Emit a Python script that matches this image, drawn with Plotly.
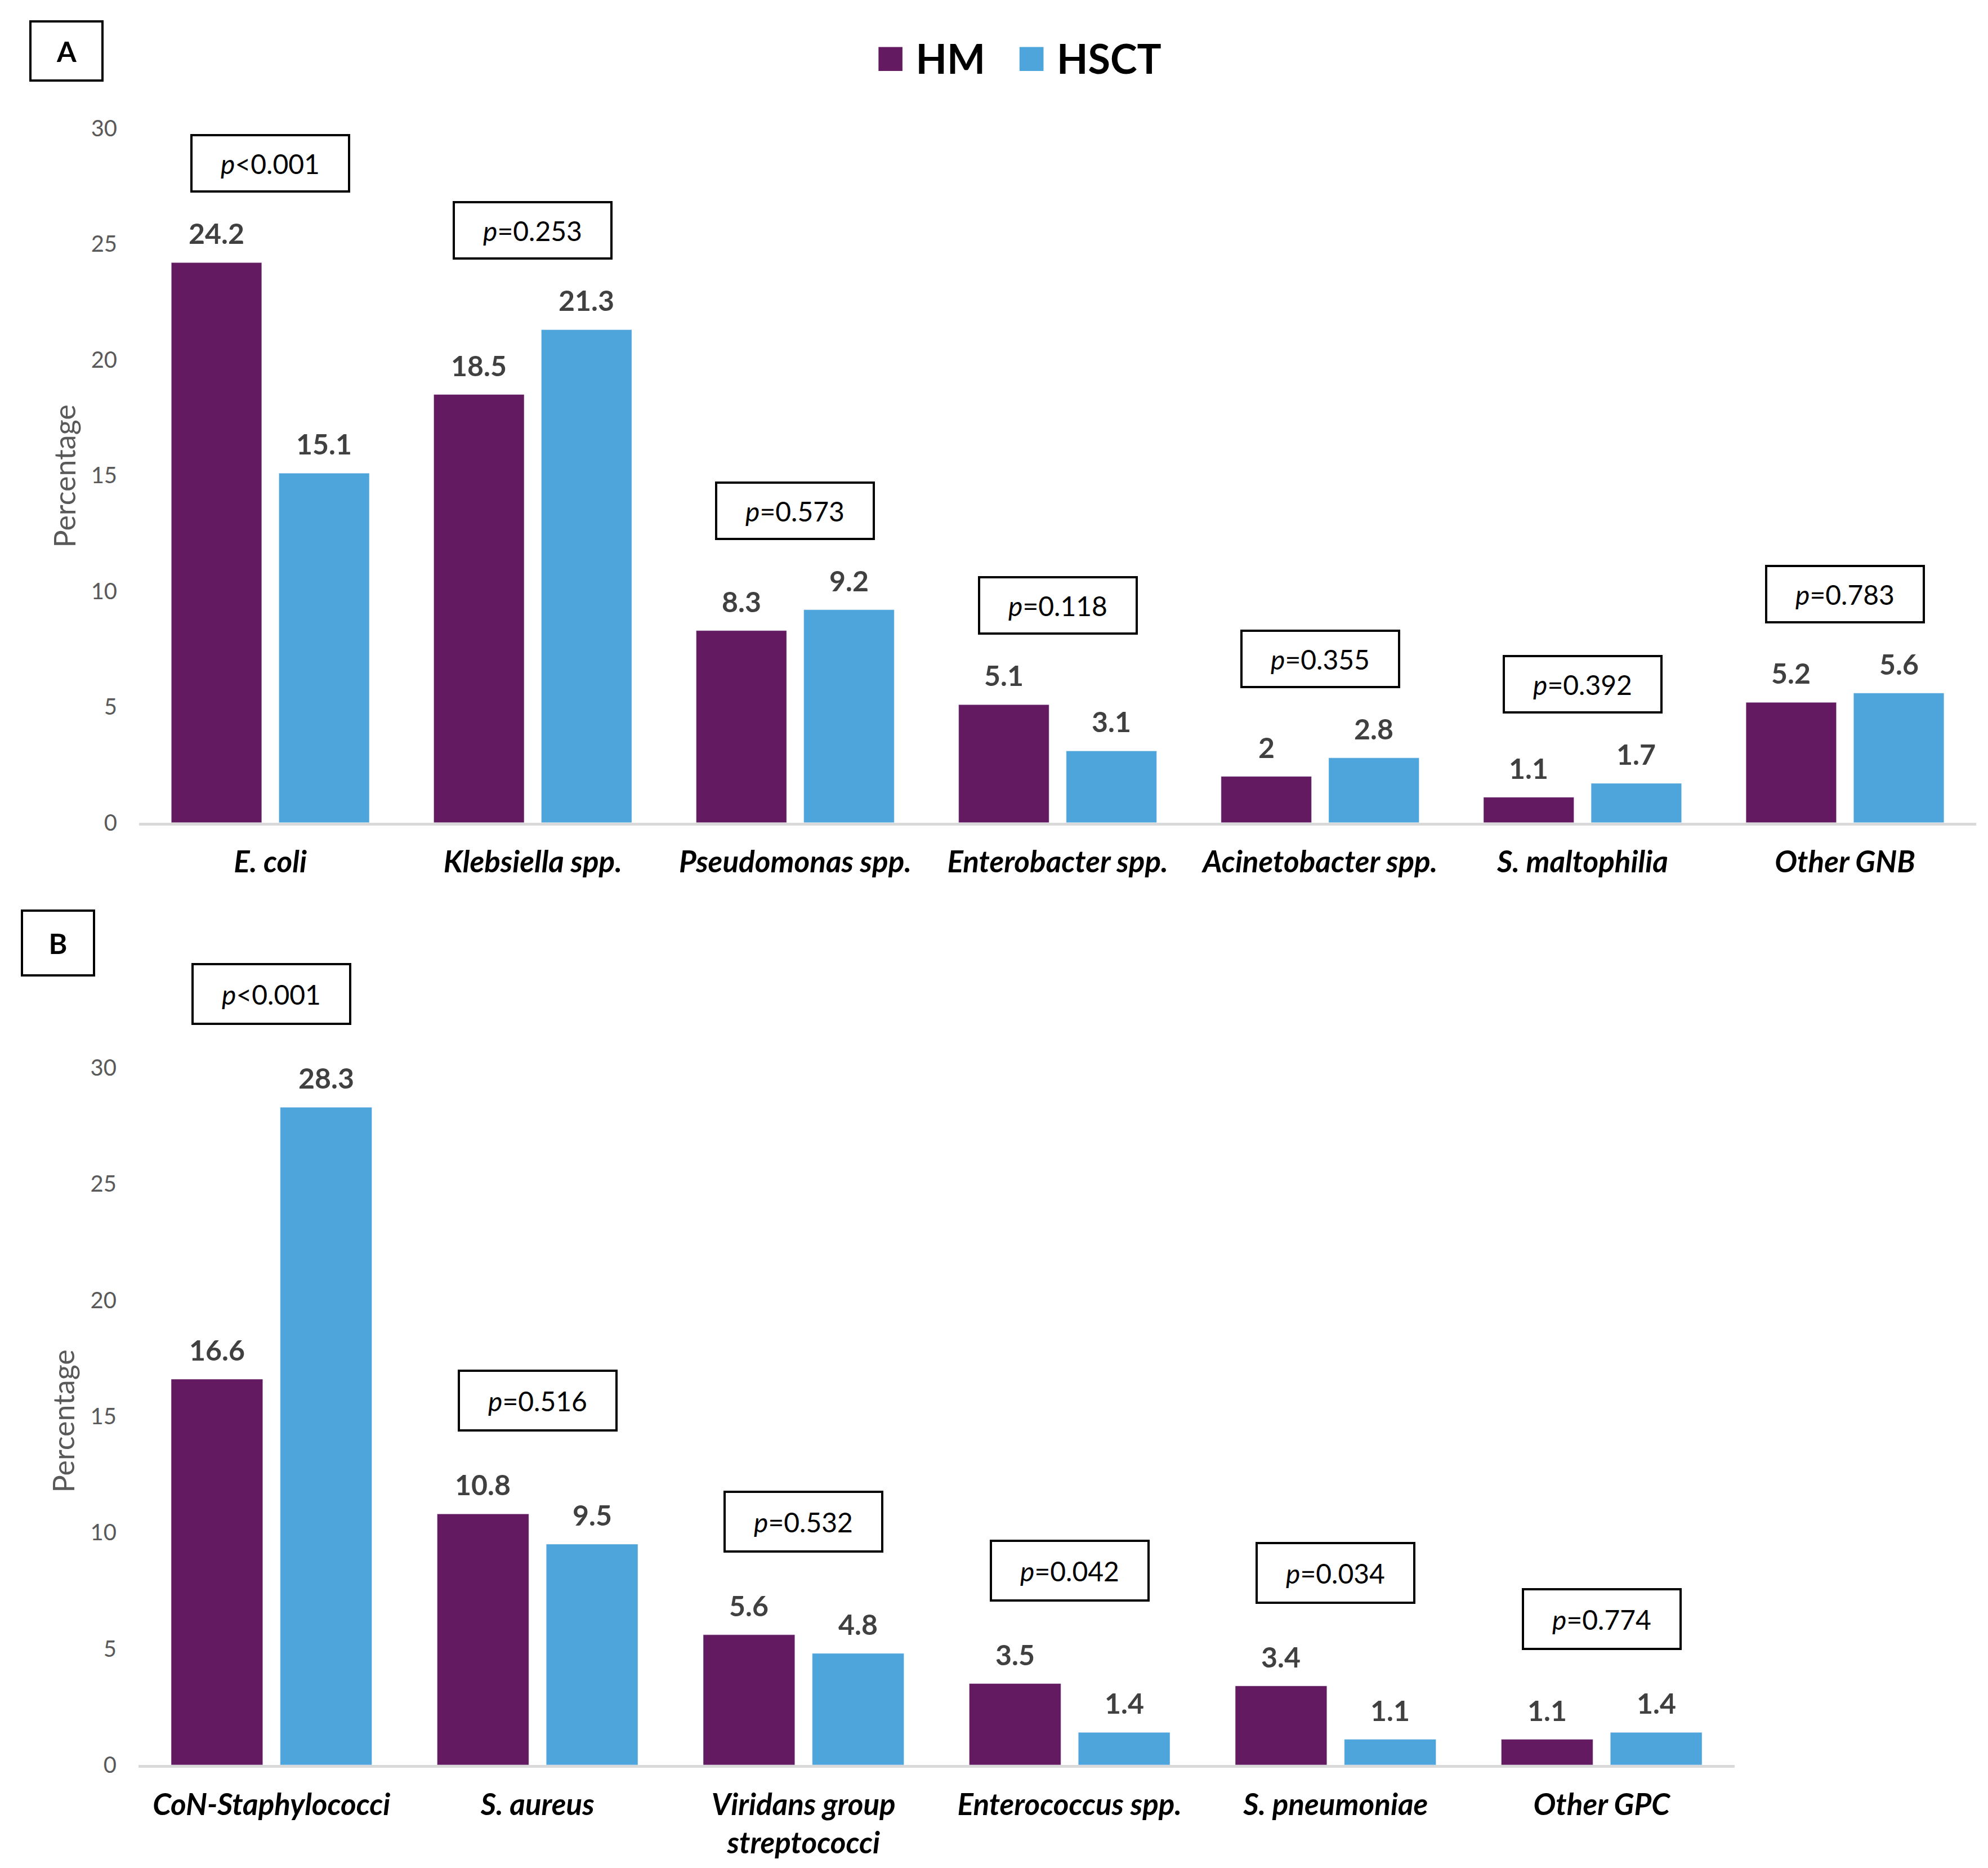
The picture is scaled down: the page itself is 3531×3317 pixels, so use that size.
import plotly.graph_objects as go

# ── Panel A：Gram-negative ──
CAT_A = ["E. coli", "Klebsiella spp.", "Pseudomonas spp.", "Enterobacter spp.",
         "Acinetobacter spp.", "S. maltophilia", "Other GNB"]
HM_A = [24.2, 18.5, 8.3, 5.1, 2, 1.1, 5.2]
HSCT_A = [15.1, 21.3, 9.2, 3.1, 2.8, 1.7, 5.6]
P_A = ["&lt;0.001", "=0.253", "=0.573", "=0.118", "=0.355", "=0.392", "=0.783"]

# ── Panel B：Gram-positive ──
CAT_B = ["CoN-Staphylococci", "S. aureus", "Viridans group<br>streptococci",
         "Enterococcus spp.", "S. pneumoniae", "Other GPC"]
HM_B = [16.6, 10.8, 5.6, 3.5, 3.4, 1.1]
HSCT_B = [28.3, 9.5, 4.8, 1.4, 1.1, 1.4]
P_B = ["&lt;0.001", "=0.516", "=0.532", "=0.042", "=0.034", "=0.774"]

Y_TICKS = [0, 5, 10, 15, 20, 25, 30]

# ─────────────────────────────────────────────
W, H = 3531, 3317
C_HM = "#641A60"
C_HSCT = "#4EA5DB"
FONT = "Lato, Carlito, Liberation Sans, sans-serif"
BARGAP = 0.18
DOM_XA = [0.0677, 0.9918]
DOM_XB = [0.0674, 0.8703]
DOM_YA = [0.5620, 0.9337]
DOM_YB = [0.0576, 0.4308]

fig = go.Figure()
annos = []

panels = [(CAT_A, HM_A, HSCT_A, P_A, "x", "y", DOM_XA, 124, 88),
          (CAT_B, HM_B, HSCT_B, P_B, "x2", "y2", DOM_XB, 146, 94)]

for cats, hm, hsct, pv, xa, ya, dom, pshift, pbox_h in panels:
    # 每組中兩根柱子中心與類別中心的距離 (px)
    cat_w = (dom[1] - dom[0]) * W / len(cats)
    off = cat_w * (1 - BARGAP) / 4
    for name, vals, col, sgn in [("HM", hm, C_HM, -1), ("HSCT", hsct, C_HSCT, 1)]:
        fig.add_trace(go.Bar(
            x=cats, y=vals, name=name, xaxis=xa, yaxis=ya,
            marker_color=col, showlegend=False,
        ))
        # 數值標籤
        for c, v in zip(cats, vals):
            annos.append(dict(
                x=c, y=v, xref=xa, yref=ya, xshift=sgn * off, yshift=20,
                yanchor="bottom", text=f"<b>{v}</b>", showarrow=False,
                font=dict(size=50, color="#404040", family=FONT),
            ))
    # p 值框
    for c, a, b, p in zip(cats, hm, hsct, pv):
        annos.append(dict(
            x=c, y=max(a, b), xref=xa, yref=ya, yanchor="bottom", yshift=pshift,
            text=f"<i>p</i>{p}", showarrow=False,
            font=dict(size=48, color="black", family=FONT),
            bordercolor="black", borderwidth=4, borderpad=4,
            width=268, height=pbox_h, bgcolor="white",
        ))

# 面板標籤 A / B
for lab, x, y, h in [("A", 0.0312, 0.975, 93), ("B", 0.0269, 0.4977, 103)]:
    annos.append(dict(
        x=x, y=y, xref="paper", yref="paper", xanchor="center", yanchor="middle",
        text=f"<b>{lab}</b>", showarrow=False,
        font=dict(size=50, color="black", family=FONT),
        bordercolor="black", borderwidth=4, borderpad=4, width=116, height=h,
    ))

# 圖例
annos.append(dict(
    x=0.51, y=0.9731, xref="paper", yref="paper", xanchor="center", yanchor="middle",
    showarrow=False,
    text=(f"<span style='color:{C_HM};font-size:88px'>■</span> <b>HM</b>"
          f"   <span style='color:{C_HSCT};font-size:88px'>■</span> <b>HSCT</b>"),
    font=dict(size=72, color="black", family=FONT),
))

# y 軸標題
for x, y in [(0.030, 0.7475), (0.0294, 0.2416)]:
    annos.append(dict(
        x=x, y=y, xref="paper", yref="paper", xanchor="center", yanchor="middle",
        text="Percentage", textangle=-90, showarrow=False,
        font=dict(size=52, color="#595959", family=FONT),
    ))

xax = dict(showline=True, linecolor="#d9d9d9", linewidth=5, ticks="",
           showgrid=False, ticklabelstandoff=20, automargin=False,
           tickfont=dict(size=53, color="black", family=FONT, weight="bold", style="italic"))
yax = dict(range=[0, 30], tickvals=Y_TICKS, showgrid=False, zeroline=False,
           showline=False, ticks="", ticklabelstandoff=38, automargin=False,
           tickfont=dict(size=40, color="#595959", family=FONT))

fig.update_layout(
    width=W, height=H,
    margin=dict(l=0, r=0, t=0, b=0, autoexpand=False),
    barmode="group", bargap=BARGAP, bargroupgap=0.16,
    plot_bgcolor="white", paper_bgcolor="white",
    font=dict(family=FONT),
    showlegend=False,
    xaxis=dict(domain=DOM_XA, anchor="y", **xax),
    yaxis=dict(domain=DOM_YA, anchor="x", **yax),
    xaxis2=dict(domain=DOM_XB, anchor="y2", **xax),
    yaxis2=dict(domain=DOM_YB, anchor="x2", **yax),
    annotations=annos,
)

fig.write_html("out.html")
